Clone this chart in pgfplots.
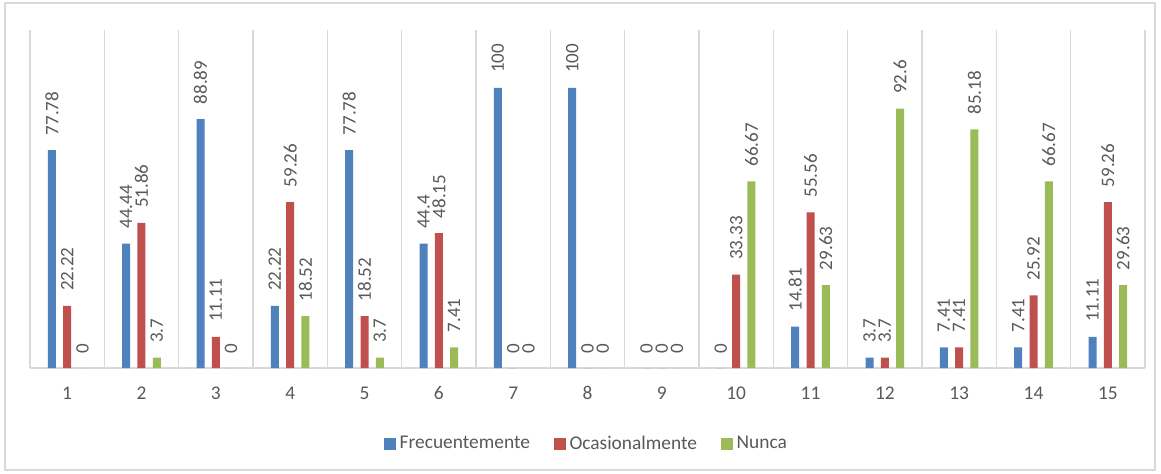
\documentclass[border=0pt]{standalone}
\usepackage{fontspec}
\setmainfont{Carlito}
\usepackage{pgfplots}
\usepackage{pgfplotstable}
\pgfplotsset{compat=1.18}
\definecolor{cblue}{HTML}{4F81BD}
\definecolor{cred}{HTML}{C0504D}
\definecolor{cgreen}{HTML}{9BBB59}
\definecolor{tgray}{HTML}{595959}
\definecolor{lgray}{HTML}{D9D9D9}
\pgfplotstableread{
x F O N
1 77.78 22.22 0
2 44.44 51.86 3.7
3 88.89 11.11 0
4 22.22 59.26 18.52
5 77.78 18.52 3.7
6 44.4 48.15 7.41
7 100 0 0
8 100 0 0
9 0 0 0
10 0 33.33 66.67
11 14.81 55.56 29.63
12 3.7 3.7 92.6
13 7.41 7.41 85.18
14 7.41 25.92 66.67
15 11.11 59.26 29.63
}\data
\begin{document}
\begin{tikzpicture}
\useasboundingbox (-15pt,-52.5pt) rectangle (565.5pt,184pt);
\fill[white] (-15pt,-52.5pt) rectangle (565.5pt,184pt);
\draw[lgray, line width=0.9pt] (-12.5pt,-51pt) rectangle (562.5pt,182.5pt);
\begin{axis}[
  scale only axis, width=557.5pt, height=169pt,
  xmin=0.5, xmax=15.5, ymin=0, ymax=120.7,
  ybar=3.65pt, bar width=4pt,
  axis y line=none, axis x line*=bottom,
  x axis line style={lgray, line width=0.8pt, -},
  xtick={1,...,15}, major tick length=0pt, minor tick length=0pt,
  minor xtick={0.5,1.5,...,15.5}, xminorgrids,
  minor grid style={lgray, line width=0.6pt},
  font=\fontsize{9.7}{11}\selectfont,
  /pgf/number format/assume math mode=true,
  xticklabel style={text=tgray, font=\fontsize{9.7}{11}\selectfont, yshift=-5.8pt},
  nodes near coords,
  nodes near coords style={rotate=90, anchor=west, text=tgray,
     font=\fontsize{9.5}{11}\selectfont, inner xsep=7.5pt, inner ysep=0pt, outer sep=0pt},
  legend style={at={(0.5,-0.225)}, anchor=center, draw=none, fill=none,
     legend columns=3, font=\fontsize{9.7}{11}\selectfont, text=tgray,
     /tikz/every even column/.append style={column sep=10pt}},
  legend image code/.code={\fill[#1] (-1.6pt,-2.9pt) rectangle (4.2pt,2.9pt);},
]
\addplot[fill=cblue, draw=none] table[x=x, y=F] {\data};
\addplot[fill=cred, draw=none] table[x=x, y=O] {\data};
\addplot[fill=cgreen, draw=none] table[x=x, y=N] {\data};
\legend{Frecuentemente, Ocasionalmente, Nunca}
\end{axis}
\end{tikzpicture}
\end{document}
